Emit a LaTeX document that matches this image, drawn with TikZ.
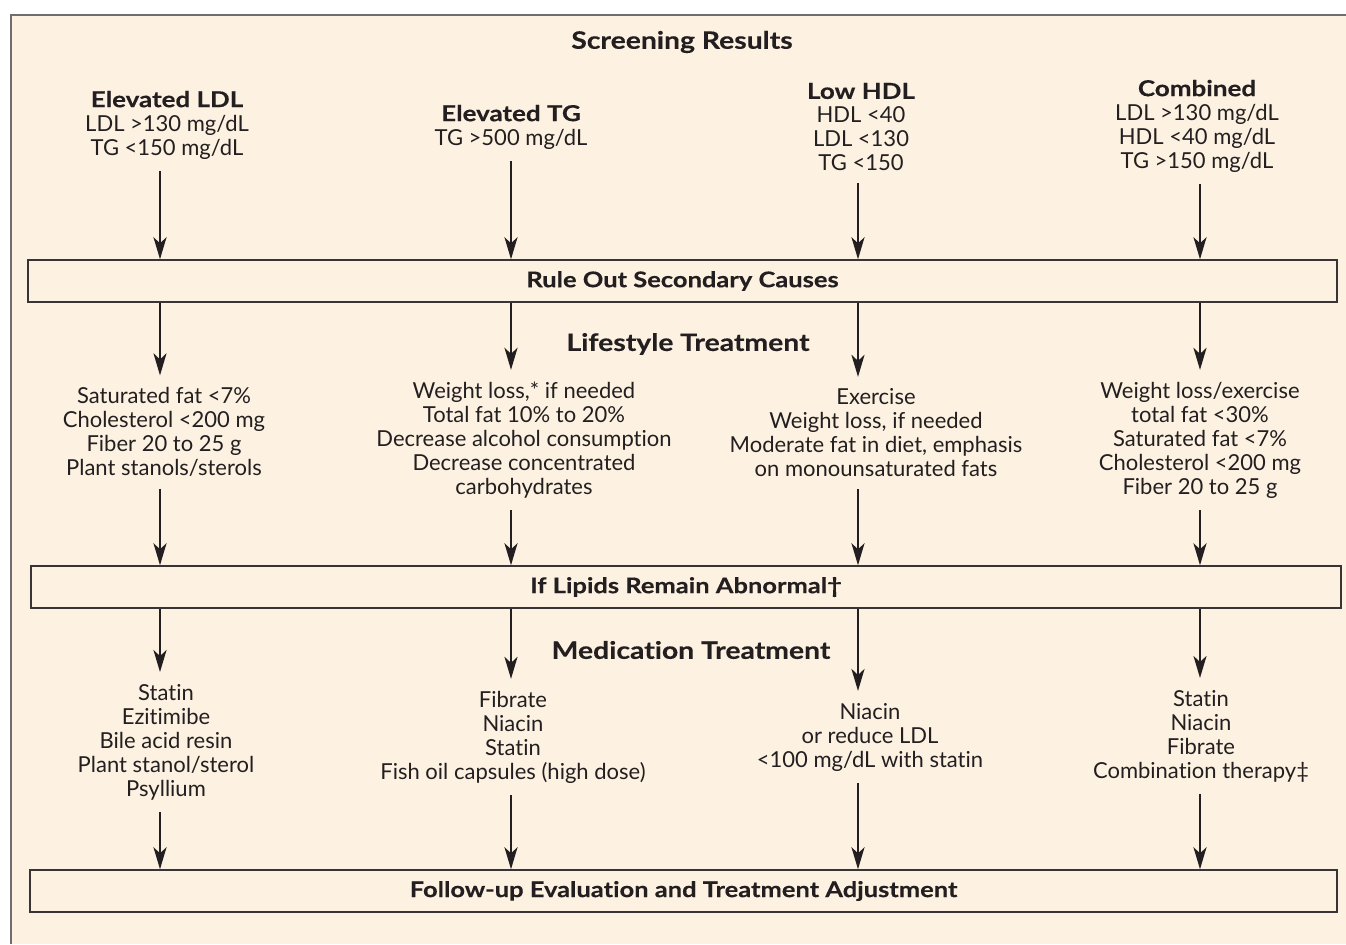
\documentclass[tikz,border=0pt]{standalone}
\usepackage{fontspec}
\setmainfont{Lato}[RawFeature={-liga},BoldFeatures={FakeStretch=1.18,FakeBold=0.3}]
\usetikzlibrary{calc}
\usetikzlibrary{arrows.meta}
\definecolor{paper}{HTML}{FDF2E2}
\definecolor{ink}{HTML}{231F20}
\definecolor{rim}{HTML}{6E6E6E}
\newcommand{\bodysize}{\fontsize{11}{12}\selectfont}

\begin{document}
\begin{tikzpicture}[x=0.5pt,y=-0.5pt,
  txt/.style={align=center,font=\bodysize,text=ink,inner sep=0pt,outer sep=6pt},
  title/.style={font=\fontsize{12}{14}\selectfont\bfseries,text=ink,inner sep=0pt},
  band/.style={draw=ink!90,line width=0.7pt,fill=paper,font=\fontsize{10.8}{12}\selectfont\bfseries,text=ink,
    minimum height=21pt,inner sep=0pt},
  arr/.style={-{Stealth[length=11pt,width=6.5pt,inset=3pt]},line width=1.3pt,draw=ink}]
  \useasboundingbox (0,0) rectangle (1346,944);
  \fill[paper] (11,15) rectangle (1346,944);
  \draw[rim,line width=0.6pt] (1346,15) -- (11,15) -- (11,944);

  % column lines
  \coordinate (c1) at (160,0);
  \coordinate (c2) at (511,0);
  \coordinate (c3) at (858,0);
  \coordinate (c4) at (1200,0);

  \node[title] (screen) at (682,42) {Screening Results};
  \node[txt] (ldl) at (167,125) {\textbf{Elevated LDL}\\LDL >130 mg/dL\\TG <150 mg/dL};
  \node[txt] (tg) at (511,127) {\textbf{Elevated TG}\\TG >500 mg/dL};
  \node[txt] (hdl) at (861,127) {\textbf{Low HDL}\\HDL <40\\LDL <130\\TG <150};
  \node[txt] (comb) at (1197,126) {\textbf{Combined}\\LDL >130 mg/dL\\HDL <40 mg/dL\\TG >150 mg/dL};

  \node[band,minimum width=654.5pt] (rule) at (682.5,281) {Rule Out Secondary Causes};

  \node[title] (life) at (688,344) {Lifestyle Treatment};
  \node[txt] (life1) at (164,432) {Saturated fat <7\%\\Cholesterol <200 mg\\Fiber 20 to 25 g\\Plant stanols/sterols};
  \node[txt] (life2) at (524,440) {Weight loss,* if needed\\Total fat 10\% to 20\%\\Decrease alcohol consumption\\Decrease concentrated\\carbohydrates};
  \node[txt] (life3) at (876,433) {Exercise\\Weight loss, if needed\\Moderate fat in diet, emphasis\\on monounsaturated fats};
  \node[txt] (life4) at (1200,440) {Weight loss/exercise\\total fat <30\%\\Saturated fat <7\%\\Cholesterol <200 mg\\Fiber 20 to 25 g};

  \node[band,minimum width=655pt] (lipid) at (686,587) {If Lipids Remain Abnormal†};

  \node[title] (med) at (691,650) {Medication Treatment};
  \node[txt] (med1) at (166,742) {Statin\\Ezitimibe\\Bile acid resin\\Plant stanol/sterol\\Psyllium};
  \node[txt] (med2) at (513,737) {Fibrate\\Niacin\\Statin\\Fish oil capsules (high dose)};
  \node[txt] (med3) at (870,737) {Niacin\\or reduce LDL\\<100 mg/dL with statin};
  \node[txt] (med4) at (1201,736) {Statin\\Niacin\\Fibrate\\Combination therapy‡};

  \node[band,minimum width=653.5pt] (follow) at (683.5,891) {Follow-up Evaluation and Treatment Adjustment};

  \draw[arr] (ldl.south -| c1) -- (rule.north -| c1);
  \draw[arr] (tg.south -| c2) -- (rule.north -| c2);
  \draw[arr] (hdl.south -| c3) -- (rule.north -| c3);
  \draw[arr] (comb.south -| c4) -- (rule.north -| c4);

  \draw[arr] (rule.south -| c1) -- (life1.north -| c1);
  \draw[arr] (rule.south -| c2) -- (life2.north -| c2);
  \draw[arr] (rule.south -| c3) -- (life3.north -| c3);
  \draw[arr] (rule.south -| c4) -- (life4.north -| c4);

  \draw[arr] (life1.south -| c1) -- (lipid.north -| c1);
  \draw[arr] (life2.south -| c2) -- (lipid.north -| c2);
  \draw[arr] (life3.south -| c3) -- (lipid.north -| c3);
  \draw[arr] (life4.south -| c4) -- (lipid.north -| c4);

  \draw[arr] (lipid.south -| c1) -- (med1.north -| c1);
  \draw[arr] (lipid.south -| c2) -- (med2.north -| c2);
  \draw[arr] (lipid.south -| c3) -- (med3.north -| c3);
  \draw[arr] (lipid.south -| c4) -- (med4.north -| c4);

  \draw[arr] (med1.south -| c1) -- (follow.north -| c1);
  \draw[arr] (med2.south -| c2) -- (follow.north -| c2);
  \draw[arr] (med3.south -| c3) -- (follow.north -| c3);
  \draw[arr] (med4.south -| c4) -- (follow.north -| c4);
\end{tikzpicture}
\end{document}
